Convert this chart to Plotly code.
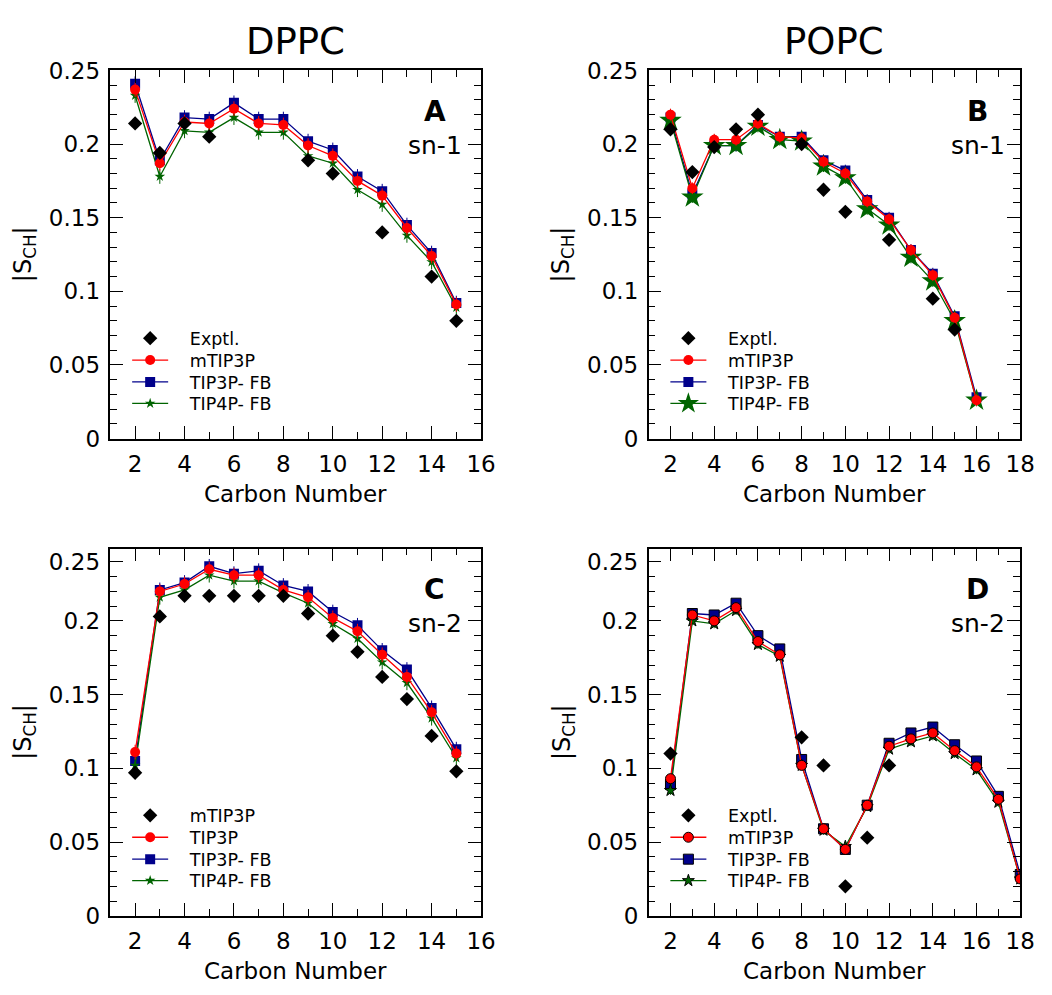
import plotly.graph_objects as go

W, H = 1052, 995

# ---------------- data ----------------
# Panel A: DPPC sn-1
A_x = list(range(2, 16))
A_exp = [0.214, 0.194, 0.214, 0.205, None, None, None, 0.189, 0.180, None, 0.140, None, 0.110, 0.080]
A_mtip3p = [0.237, 0.187, 0.215, 0.214, 0.224, 0.214, 0.213, 0.199, 0.192, 0.175, 0.165, 0.143, 0.124, 0.091]
A_tip3pfb = [0.241, 0.189, 0.218, 0.217, 0.228, 0.217, 0.217, 0.202, 0.196, 0.178, 0.168, 0.145, 0.126, 0.092]
A_tip4pfb = [0.233, 0.178, 0.209, 0.208, 0.218, 0.208, 0.208, 0.192, 0.187, 0.169, 0.159, 0.138, 0.120, 0.089]

# Panel B: POPC sn-1
B_x = list(range(2, 17))
B_exp = [0.210, 0.181, 0.198, 0.210, 0.220, None, 0.200, 0.169, 0.154, None, 0.135, None, 0.095, 0.074, None]
B_mtip3p = [0.220, 0.170, 0.203, 0.203, 0.214, 0.205, 0.204, 0.188, 0.180, 0.161, 0.149, 0.128, 0.111, 0.082, 0.026]
B_tip3pfb = [0.218, 0.166, 0.199, 0.199, 0.213, 0.205, 0.205, 0.189, 0.182, 0.162, 0.150, 0.128, 0.112, 0.083, 0.028]
B_tip4pfb = [0.216, 0.164, 0.199, 0.199, 0.212, 0.203, 0.202, 0.185, 0.177, 0.156, 0.145, 0.123, 0.107, 0.080, 0.026]

# Panel C: DPPC sn-2
C_x = list(range(2, 16))
C_exp = [0.097, 0.203, 0.217, 0.217, 0.217, 0.217, 0.217, 0.205, 0.190, 0.179, 0.162, 0.147, 0.122, 0.098]
C_tip3p = [0.111, 0.220, 0.225, 0.235, 0.231, 0.231, 0.221, 0.216, 0.202, 0.193, 0.177, 0.162, 0.138, 0.110]
C_tip3pfb = [0.105, 0.221, 0.226, 0.237, 0.232, 0.234, 0.224, 0.220, 0.206, 0.197, 0.180, 0.167, 0.141, 0.113]
C_tip4pfb = [0.102, 0.216, 0.221, 0.231, 0.227, 0.227, 0.219, 0.212, 0.198, 0.188, 0.172, 0.158, 0.134, 0.107]

# Panel D: POPC sn-2
D_x = list(range(2, 19))
D_exp = [0.110, None, None, None, None, None, 0.121, 0.102, 0.020, 0.053, 0.102, None, None, None, None, None, None]
D_mtip3p = [0.093, 0.204, 0.200, 0.209, 0.186, 0.177, 0.102, 0.059, 0.045, 0.075, 0.115, 0.120, 0.124, 0.112, 0.101, 0.079, 0.025]
D_tip3pfb = [0.089, 0.205, 0.204, 0.212, 0.190, 0.181, 0.106, 0.059, 0.045, 0.075, 0.117, 0.124, 0.128, 0.116, 0.105, 0.081, 0.028]
D_tip4pfb = [0.085, 0.200, 0.198, 0.207, 0.184, 0.176, 0.102, 0.058, 0.047, 0.074, 0.113, 0.118, 0.122, 0.110, 0.099, 0.077, 0.025]

# symmetric error-bar half-widths of the simulated series, per panel
ERRS = [0.005, 0.004, 0.005, 0.003]

panel_titles = ["DPPC", "POPC"]
panel_letters = ["A", "B", "C", "D"]
chain_labels = ["sn-1", "sn-1", "sn-2", "sn-2"]
y_tick_vals_top = [0, 0.05, 0.1, 0.15, 0.2, 0.25]
y_tick_vals_bot = [0, 0.05, 0.1, 0.15, 0.2, 0.24]
y_tick_text = ["0", "0.05", "0.1", "0.15", "0.2", "0.25"]

# ---------------- layout geometry (pixels) ----------------
def px(x):
    return x / W

def py(y):
    return 1 - y / H

COLS = [(112, 488), (658, 1035)]
ROWS = [(59, 437), (550, 927)]
LEG_ROW_OFFSETS = [-103, -80.5, -58, -36]   # legend row centres relative to plot bottom

RED = "#ff0000"
NAVY = "#00008b"
GREEN = "#006400"
FONT = "DejaVu Sans"

fig = go.Figure()

panels = [
    dict(x=A_x, exp=A_exp, s=[("mTIP3P", A_mtip3p), ("TIP3P- FB", A_tip3pfb), ("TIP4P- FB", A_tip4pfb)],
         exp_name="Exptl.", star=8, outline=False, xr=[1, 16], yr=[0, 0.25], tv=y_tick_vals_top),
    dict(x=B_x, exp=B_exp, s=[("mTIP3P", B_mtip3p), ("TIP3P- FB", B_tip3pfb), ("TIP4P- FB", B_tip4pfb)],
         exp_name="Exptl.", star=17, outline=False, xr=[1, 18], yr=[0, 0.25], tv=y_tick_vals_top),
    dict(x=C_x, exp=C_exp, s=[("TIP3P", C_tip3p), ("TIP3P- FB", C_tip3pfb), ("TIP4P- FB", C_tip4pfb)],
         exp_name="mTIP3P", star=8, outline=False, xr=[1, 16], yr=[0, 0.249], tv=y_tick_vals_bot),
    dict(x=D_x, exp=D_exp, s=[("mTIP3P", D_mtip3p), ("TIP3P- FB", D_tip3pfb), ("TIP4P- FB", D_tip4pfb)],
         exp_name="Exptl.", star=9, outline=True, xr=[1, 18], yr=[0, 0.249], tv=y_tick_vals_bot),
]

NB = "\u00a0\u00a0\u00a0"
layout_extra = {}
annotations = []
leg_counter = [0]

def new_legend(x_left, y_center):
    leg_counter[0] += 1
    k = leg_counter[0]
    name = "legend" if k == 1 else f"legend{k}"
    layout_extra[name] = dict(
        x=px(x_left), y=py(y_center), xanchor="left", yanchor="middle",
        bgcolor="rgba(0,0,0,0)", borderwidth=0, itemwidth=36,
        font=dict(family=FONT, size=17.5, color="black"),
    )
    return name

for i, p in enumerate(panels):
    r, c = divmod(i, 2)
    x0, x1 = COLS[c]
    y0, y1 = ROWS[r]
    n = i + 1
    xa = "x" if n == 1 else f"x{n}"
    ya = "y" if n == 1 else f"y{n}"
    leg_x = x0 + 17

    exp_tr = go.Scatter(
        x=p["x"], y=p["exp"], name=NB + p["exp_name"], mode="markers",
        marker=dict(symbol="diamond", size=11, color="black"),
        xaxis=xa, yaxis=ya, legend=new_legend(leg_x, y1 + LEG_ROW_OFFSETS[0]),
    )
    series_colors = [RED, NAVY, GREEN]
    symbols = ["circle", "square", "star"]
    sizes = [10, 10, p["star"]]
    traces = []
    for k, ((name, vals), col, sym, sz) in enumerate(zip(p["s"], series_colors, symbols, sizes)):
        edge = "black" if p["outline"] else col
        traces.append(go.Scatter(
            x=p["x"], y=vals, name=NB + name, mode="lines+markers",
            line=dict(color=col, width=1.3),
            marker=dict(symbol=sym, size=sz, color=col,
                        line=dict(color=edge, width=1 if p["outline"] else 0)),
            error_y=dict(type="constant", value=ERRS[i], color=col, thickness=1, width=0),
            xaxis=xa, yaxis=ya, legend=new_legend(leg_x, y1 + LEG_ROW_OFFSETS[k + 1]),
        ))
    # draw order: blue, green, red, then experiment on top
    for t in (traces[1], traces[2], traces[0], exp_tr):
        fig.add_trace(t)

    axis_common = dict(
        showline=True, linecolor="black", linewidth=1.5, mirror="allticks",
        ticks="inside", ticklen=13, tickwidth=1.3, tickcolor="black",
        showgrid=False, zeroline=False,
        tickfont=dict(family=FONT, size=23, color="black"),
    )
    layout_extra["xaxis" if n == 1 else f"xaxis{n}"] = dict(
        axis_common, domain=[px(x0), px(x1)], range=p["xr"], anchor=ya,
        tickmode="array", tickvals=list(range(2, p["xr"][1] + 1, 2)),
        ticklabelstandoff=4,
        minor=dict(dtick=1, tick0=1, ticks="inside", ticklen=7, tickwidth=1.3, tickcolor="black"),
    )
    layout_extra["yaxis" if n == 1 else f"yaxis{n}"] = dict(
        axis_common, domain=[py(y1), py(y0)], range=p["yr"], anchor=xa,
        tickmode="array", tickvals=p["tv"], ticktext=y_tick_text,
        ticklabelstandoff=4,
        minor=dict(tickmode="array", tickvals=[k / 100 for k in range(1, 25)],
                   ticks="inside", ticklen=7, tickwidth=1.3, tickcolor="black"),
    )
    # panel letter and chain label
    cx = x1 - 47 if c == 0 else x1 - 43
    common_anno = dict(xref="paper", yref="paper", showarrow=False, xanchor="center", yanchor="middle")
    annotations.append(dict(common_anno, text=f"<b>{panel_letters[i]}</b>", x=px(cx), y=py(y0 + 42),
                            font=dict(family=FONT, size=28, color="black")))
    annotations.append(dict(common_anno, text=chain_labels[i], x=px(cx), y=py(y0 + 77),
                            font=dict(family=FONT, size=25, color="black")))
    # axis titles
    annotations.append(dict(common_anno, text="Carbon Number", x=px((x0 + x1) / 2), y=py(y1 + 57),
                            font=dict(family=FONT, size=23, color="black")))
    annotations.append(dict(common_anno, text="|S<sub>CH</sub>|", x=px(x0 - 87), y=py((y0 + y1) / 2),
                            textangle=-90, font=dict(family=FONT, size=24, color="black")))

for c, t in enumerate(panel_titles):
    x0, x1 = COLS[c]
    annotations.append(dict(text=t, x=px((x0 + x1) / 2), y=py(29), xref="paper", yref="paper",
                            showarrow=False, xanchor="center", yanchor="middle",
                            font=dict(family=FONT, size=37, color="black")))

fig.update_layout(
    width=W, height=H, margin=dict(l=0, r=0, t=0, b=0),
    paper_bgcolor="white", plot_bgcolor="white",
    showlegend=True, annotations=annotations, **layout_extra,
)

fig.write_html("out.html")
